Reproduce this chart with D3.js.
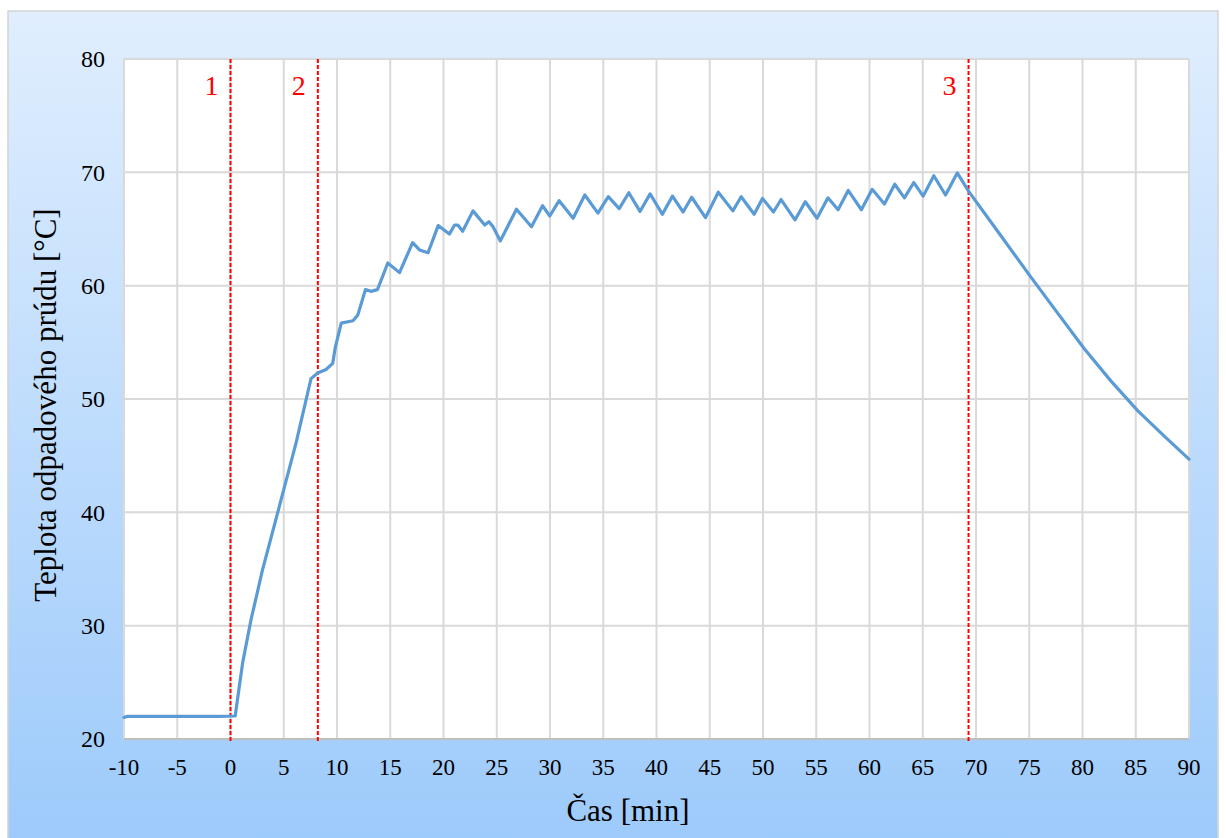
<!DOCTYPE html>
<html>
<head>
<meta charset="utf-8">
<script src="https://cdn.jsdelivr.net/npm/d3@7"></script>
<style>
  body { margin: 0; background: #fff; }
  svg { display: block; font-family: "Times New Roman", "Liberation Serif", serif; }
</style>
</head>
<body>
<svg id="chart" width="1226" height="838"></svg>
<script>
// time [min] and waste stream temperature [°C]
const time = [-10, -9.7, -1, 0.44, 1.13, 1.92, 3.0, 4.58, 6.15, 7.56, 8.19, 8.97, 9.6, 9.85, 10.4, 11.5, 11.95,
  12.67, 13.2, 13.8, 14.77, 15.87, 17.1, 17.75, 18.55, 19.5, 20.55, 21.04, 21.35, 21.8, 22.77, 23.87,
  24.27, 24.65, 25.34, 26.85, 28.26, 29.3, 29.98, 30.86, 32.17, 33.27, 34.5, 35.47, 36.5, 37.4, 38.45,
  39.4, 40.55, 41.5, 42.5, 43.3, 44.6, 45.8, 47.17, 47.95, 49.17, 49.95, 50.98, 51.7, 53.0, 53.97,
  55.07, 56.1, 57.05, 58.0, 59.24, 60.25, 61.4, 62.37, 63.28, 64.16, 65.04, 66.04, 67.14, 68.24,
  69.33, 72.15, 75.0, 77.65, 80.15, 82.66, 85.2, 87.7, 90];
const temp = [21.9, 22.0, 22.0, 22.03, 26.67, 30.5, 34.9, 40.5, 46.1, 51.8, 52.3, 52.6, 53.15, 54.6, 56.7, 56.9, 57.4,
  59.65, 59.5, 59.65, 62.0, 61.15, 63.8, 63.15, 62.9, 65.3, 64.55, 65.35, 65.35, 64.8, 66.6, 65.35,
  65.65, 65.2, 63.95, 66.75, 65.2, 67.05, 66.15, 67.5, 65.95, 68.0, 66.4, 67.85, 66.8, 68.2, 66.55,
  68.1, 66.3, 67.9, 66.5, 67.8, 66.0, 68.25, 66.6, 67.85, 66.3, 67.7, 66.5, 67.6, 65.8, 67.4,
  65.95, 67.75, 66.7, 68.4, 66.7, 68.5, 67.2, 68.95, 67.75, 69.1, 67.9, 69.7, 68.0, 69.95,
  68.3, 64.65, 60.95, 57.6, 54.45, 51.6, 48.95, 46.7, 44.7];

const xTicks = d3.range(-10, 91, 5);
const yTicks = d3.range(20, 81, 10);
const markerX = [0, 8.2, 69.3];
const markerLabels = ["1", "2", "3"];

const svg = d3.select("#chart");
const m = { left: 124, right: 1189, top: 59, bottom: 739 };

const defs = svg.append("defs");
const grad = defs.append("linearGradient").attr("id", "bg").attr("x1", 0).attr("y1", 0).attr("x2", 0).attr("y2", 1);
grad.append("stop").attr("offset", "0%").attr("stop-color", "#e0eefe");
grad.append("stop").attr("offset", "100%").attr("stop-color", "#9ccafb");

// chart area
svg.append("rect").attr("x", 8).attr("y", 11).attr("width", 1210).attr("height", 840)
  .attr("fill", "url(#bg)").attr("stroke", "#d4d4d4").attr("stroke-width", 1.5);

const x = d3.scaleLinear().domain([-10, 90]).range([m.left, m.right]);
const y = d3.scaleLinear().domain([20, 80]).range([m.bottom, m.top]);

svg.append("rect").attr("x", m.left).attr("y", m.top)
  .attr("width", m.right - m.left).attr("height", m.bottom - m.top).attr("fill", "#fff");

// grid
svg.append("g").selectAll("line").data(xTicks).join("line")
  .attr("x1", d => x(d)).attr("x2", d => x(d)).attr("y1", m.top).attr("y2", m.bottom)
  .attr("stroke", "#d9d9d9").attr("stroke-width", 2);
svg.append("g").selectAll("line").data(yTicks).join("line")
  .attr("x1", m.left).attr("x2", m.right).attr("y1", d => y(d)).attr("y2", d => y(d))
  .attr("stroke", d => d === 20 ? "#bfbfbf" : "#d9d9d9").attr("stroke-width", 2);

// axes labels
svg.append("g").selectAll("text").data(yTicks).join("text")
  .attr("x", 105).attr("y", d => y(d)).attr("dy", "0.35em")
  .attr("text-anchor", "end").attr("font-size", 24).attr("fill", "#000")
  .text(d => d);
svg.append("g").selectAll("text").data(xTicks).join("text")
  .attr("x", d => x(d)).attr("y", 775)
  .attr("text-anchor", "middle").attr("font-size", 23).attr("fill", "#000")
  .text(d => d);

svg.append("text").attr("x", 628).attr("y", 821).attr("text-anchor", "middle")
  .attr("font-size", 31).text("Čas [min]");
svg.append("text").attr("transform", "translate(56,405) rotate(-90)").attr("text-anchor", "middle")
  .attr("font-size", 31).text("Teplota odpadového prúdu [°C]");

// red phase markers
svg.append("g").selectAll("line").data(markerX).join("line")
  .attr("x1", d => x(d)).attr("x2", d => x(d)).attr("y1", m.top).attr("y2", m.bottom + 2)
  .attr("stroke", "#ff0000").attr("stroke-width", 2).attr("stroke-dasharray", "4,2");
svg.append("g").selectAll("text").data(markerX).join("text")
  .attr("x", d => x(d) - 12).attr("y", 95).attr("text-anchor", "end")
  .attr("font-size", 28).attr("fill", "#ff0000")
  .text((d, i) => markerLabels[i]);

// temperature curve
const line = d3.line().x((d, i) => x(time[i])).y(d => y(d));
svg.append("path").datum(temp).attr("d", line)
  .attr("fill", "none").attr("stroke", "#5b9bd5").attr("stroke-width", 3.2)
  .attr("stroke-linejoin", "round").attr("stroke-linecap", "round");
</script>
</body>
</html>
